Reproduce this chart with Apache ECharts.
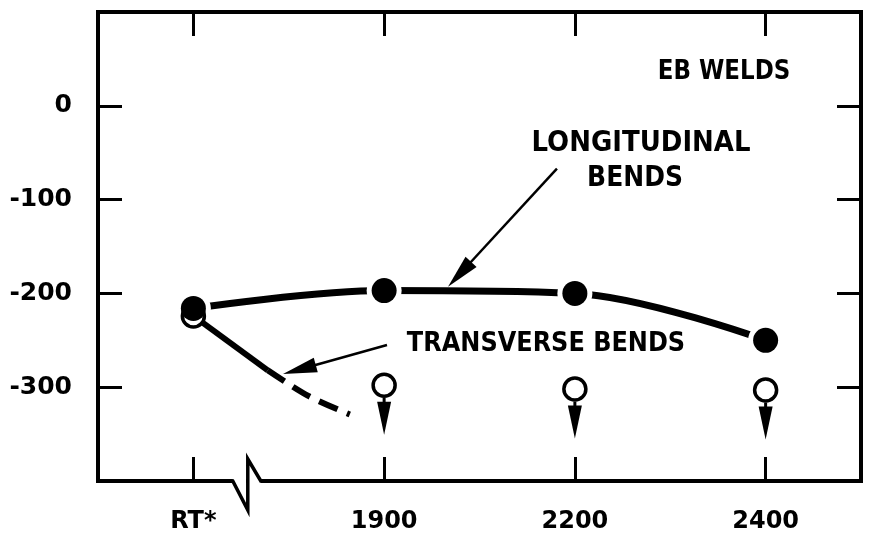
<!DOCTYPE html>
<html>
<head>
<meta charset="utf-8">
<title>EB Welds – bend test results</title>
<script src="https://cdn.jsdelivr.net/npm/echarts@6/dist/echarts.min.js"></script>
<style>
  html, body { margin: 0; padding: 0; background: #fff; }
  #chart { width: 873px; height: 546px; }
</style>
</head>
<body>
<div id="chart"></div>
<script>
// Test temperatures (x categories) and y-axis range
const categories = ['RT*', '1900', '2200', '2400'];
const yMin = -400;
const yMax = 100;
const yStep = 100;
const yLabelValues = [0, -100, -200, -300];

// Longitudinal bends (filled circles)
const longitudinal = [-216, -197, -200, -250];

// Transverse bends (open circles); true = upper bound, drawn with a down arrow
const transverse = [-224, -298, -302, -303];
const transverseUpperBound = [false, true, true, true];

// Transverse trend near room temperature: measured part, then extrapolated (dashed)
const transverseTrendSolid = [[0, -224], [0.39, -282]];
const transverseTrendDashed = [[0.39, -282], [0.6, -309], [0.82, -329]];

// Callout arrows: [fromX, fromY, toX, toY] in data units
const callouts = [
  [1.906, -67, 1.335, -193],   // LONGITUDINAL BENDS
  [1.015, -255, 0.47, -286]    // TRANSVERSE BENDS
];

// Where the broken x-axis is marked (between RT and 1900)
const axisBreakAt = 0.28;

const FONT = '"DejaVu Sans", "Liberation Sans", sans-serif';
const BLACK = '#000';

const chart = echarts.init(document.getElementById('chart'), null, { renderer: 'canvas' });

function ticks(extra) {
  return Object.assign({ show: true, inside: true, length: 24, lineStyle: { color: BLACK, width: 3 } }, extra || {});
}
const axisLine = { show: true, onZero: false, lineStyle: { color: BLACK, width: 4, cap: 'square' } };

function renderOpenPoint(params, api) {
  const c = api.coord([api.value(0), api.value(1)]);
  const r = 11;
  const children = [{
    type: 'circle',
    shape: { cx: c[0], cy: c[1], r: r },
    style: { fill: '#fff', stroke: BLACK, lineWidth: 3.5 }
  }];
  if (api.value(2)) {
    const top = c[1] + r + 1.5;
    children.push({
      type: 'line',
      shape: { x1: c[0], y1: top, x2: c[0], y2: top + 6 },
      style: { stroke: BLACK, lineWidth: 3 }
    });
    children.push({
      type: 'polygon',
      shape: { points: [[c[0] - 7, top + 4], [c[0] + 7, top + 4], [c[0], top + 37]] },
      style: { fill: BLACK }
    });
  }
  return { type: 'group', children: children };
}

function renderCallout(params, api) {
  const a = api.coord([api.value(0), api.value(1)]);
  const b = api.coord([api.value(2), api.value(3)]);
  const dx = b[0] - a[0], dy = b[1] - a[1];
  const len = Math.hypot(dx, dy);
  const ux = dx / len, uy = dy / len;
  const head = 34, half = 7.5;
  const base = [b[0] - ux * head, b[1] - uy * head];
  const nx = -uy, ny = ux;
  return {
    type: 'group',
    children: [
      { type: 'line', shape: { x1: a[0], y1: a[1], x2: base[0] + ux * 4, y2: base[1] + uy * 4 },
        style: { stroke: BLACK, lineWidth: 2.5 } },
      { type: 'polygon',
        shape: { points: [b, [base[0] + nx * half, base[1] + ny * half], [base[0] - nx * half, base[1] - ny * half]] },
        style: { fill: BLACK } }
    ]
  };
}

function renderAxisBreak(params, api) {
  const p = api.coord([api.value(0), yMin]);
  const x = p[0], y = p[1];
  return {
    type: 'group',
    children: [
      { type: 'rect', shape: { x: x - 14, y: y - 4, width: 28, height: 8 }, style: { fill: '#fff' } },
      { type: 'polyline',
        shape: { points: [[x - 16, y], [x - 14, y], [x + 1, y + 29], [x + 1, y - 22], [x + 14, y], [x + 16, y]] },
        style: { stroke: BLACK, lineWidth: 3.5, fill: null, lineJoin: 'miter' } }
    ]
  };
}

function note(text, x, y, size) {
  return {
    type: 'text', x: x, y: y, z: 10, scaleY: 1.12,
    style: { text: text, font: 'bold ' + size + 'px ' + FONT, fill: BLACK,
             align: 'center', verticalAlign: 'middle', textAlign: 'center', textVerticalAlign: 'middle' }
  };
}

const option = {
  backgroundColor: '#fff',
  animation: false,
  grid: { left: 98, right: 12, top: 12, bottom: 65, containLabel: false },
  xAxis: [
    {
      type: 'category', data: categories, position: 'bottom', boundaryGap: true,
      axisLine: axisLine,
      axisTick: ticks({ alignWithLabel: true, interval: 0 }),
      axisLabel: { color: BLACK, fontFamily: FONT, fontWeight: 'bold', fontSize: 24, margin: 29, interval: 0 },
      splitLine: { show: false }
    },
    {
      type: 'category', data: categories, position: 'top', boundaryGap: true,
      axisLine: axisLine,
      axisTick: ticks({ alignWithLabel: true, interval: 0 }),
      axisLabel: { show: false },
      splitLine: { show: false }
    },
    { type: 'value', min: -0.5, max: 3.5, show: false }
  ],
  yAxis: [
    {
      type: 'value', min: yMin, max: yMax, interval: yStep, position: 'left',
      axisLine: axisLine,
      axisTick: ticks(),
      axisLabel: {
        color: BLACK, fontFamily: FONT, fontWeight: 'bold', fontSize: 25, margin: 26,
        padding: [5, 0, 0, 0],
        formatter: function (v) { return yLabelValues.indexOf(v) >= 0 ? String(v) : ''; }
      },
      splitLine: { show: false }
    },
    {
      type: 'value', min: yMin, max: yMax, interval: yStep, position: 'right',
      axisLine: axisLine,
      axisTick: ticks(),
      axisLabel: { show: false },
      splitLine: { show: false }
    }
  ],
  series: [
    {
      name: 'Longitudinal bends', type: 'line', xAxisIndex: 2, yAxisIndex: 0, z: 2,
      data: longitudinal.map((v, i) => [i, v]),
      smooth: 0.35, showSymbol: false, silent: true,
      lineStyle: { color: BLACK, width: 7 }
    },
    {
      // white halo that opens a small gap in the line around each filled point
      name: 'gap', type: 'scatter', xAxisIndex: 2, yAxisIndex: 0, z: 3, silent: true,
      data: longitudinal.map((v, i) => [i, v]),
      symbol: 'circle', symbolSize: 35, itemStyle: { color: '#fff', opacity: 1 }
    },
    {
      name: 'Transverse trend', type: 'line', xAxisIndex: 2, yAxisIndex: 0, z: 4,
      data: transverseTrendSolid, showSymbol: false, silent: true,
      lineStyle: { color: BLACK, width: 6 }
    },
    {
      name: 'Transverse trend (extrapolated)', type: 'line', xAxisIndex: 2, yAxisIndex: 0, z: 4,
      data: transverseTrendDashed, smooth: 0.3, showSymbol: false, silent: true,
      lineStyle: { color: BLACK, width: 6, type: [20, 10], cap: 'butt' }
    },
    {
      name: 'Transverse bends', type: 'custom', xAxisIndex: 2, yAxisIndex: 0, z: 5, clip: false,
      data: transverse.map((v, i) => [i, v, transverseUpperBound[i] ? 1 : 0]),
      renderItem: renderOpenPoint
    },
    {
      name: 'Longitudinal points', type: 'scatter', xAxisIndex: 2, yAxisIndex: 0, z: 6, silent: true,
      data: longitudinal.map((v, i) => [i, v]),
      symbol: 'circle', symbolSize: 25, itemStyle: { color: BLACK, opacity: 1 }
    },
    {
      name: 'callouts', type: 'custom', xAxisIndex: 2, yAxisIndex: 0, z: 7, clip: false,
      data: callouts, renderItem: renderCallout
    },
    {
      name: 'axis break', type: 'custom', xAxisIndex: 2, yAxisIndex: 0, z: 8, clip: false,
      data: [[axisBreakAt]], renderItem: renderAxisBreak
    }
  ],
  graphic: [
    note('EB WELDS', 724, 72, 23),
    note('LONGITUDINAL', 641, 143, 26),
    note('BENDS', 635, 179, 25),
    note('TRANSVERSE BENDS', 546, 344, 24)
  ]
};

chart.setOption(option);
</script>
</body>
</html>
